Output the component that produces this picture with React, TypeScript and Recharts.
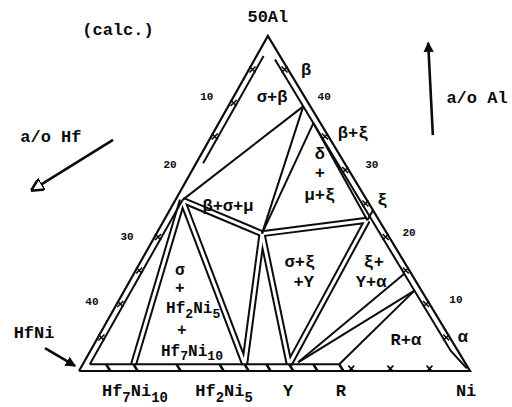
import React from "react"
import { ScatterChart, Scatter, XAxis, YAxis } from "recharts"

type Pt = { x: number; y: number }
type Comp = [number, number] // [a/o Hf, a/o Al]

const INK = "#0b0b0b"
const FONT = "'Liberation Mono', 'DejaVu Sans Mono', monospace"

// composition -> plot coords: HfNi bottom left, Ni bottom right, 50Al on top
const toPlot = ([hf, al]: Comp): Pt => ({ x: 100 - 2 * hf - 1.034 * al, y: al })

// line compounds on the HfNi–Ni side (a/o Hf)
const compoundNames = ["Hf7Ni10", "Hf2Ni5", "Y", "R"]
const compoundHf = [42.5, 28.3, 22.6, 16.2]

// three-phase corners
const corners: Record<string, Comp> = {
  L: [23.6, 25.5],
  N1: [0.9, 39.5],
  N3: [0.9, 37],
  N2: [16, 20.5],
  N4: [1.5, 22.5],
  N5: [0.9, 14.5],
  N6: [0.9, 12],
  E: [0, 24],
  Yr: [21.3, 1.3],
}
compoundNames.forEach((n, i) => (corners[n] = [compoundHf[i], 1]))

// tie lines drawn as hollow (two-phase) bands and as plain lines
const bandTies = [
  ["L", "Hf7Ni10"],
  ["L", "Hf2Ni5"],
  ["N2", "Hf2Ni5"],
  ["N2", "Y"],
  ["N4", "Y"],
  ["N2", "L"],
  ["N2", "N4"],
]
const plainTies = [
  ["L", "N1"],
  ["N1", "N2"],
  ["N3", "N2"],
  ["N3", "N4"],
  ["N4", "E"],
  ["Yr", "N5"],
  ["Yr", "N6"],
  ["R", "N6"],
]

// triangle outline and the inner lines of the single-phase bands along the sides
const outline: Comp[] = [[50, 0], [0, 0], [0, 50], [50, 0]]
const innerLines: Comp[][] = [
  [[2.1, 47], [18.1, 31]],
  [[23.6, 25.5], [48.1, 1]],
  [[0.9, 46.5], [0.9, 3], [0.2, 0.4]],
  [[48.1, 1], [16.2, 1]],
]
const bottomBreaksHf = [46, 42.5, 37, 31.5, 28.3, 25.5, 22.6, 19.5, 16.2]

// 5 a/o marks along the sides
const leftTicksAl = [5, 10, 15, 20, 35, 40, 45]
const rightTicksAl = [5, 10, 15, 20, 25, 30, 35, 45]
const bottomTicksHf = [5, 10, 15]

// text anchors in plot units
const labels = [
  { x: 9.97, y: 50.9, text: "(calc.)" },
  { x: 48.3, y: 52.8, text: "50Al" },
  { x: -7.2, y: 34.9, text: "a/o Hf" },
  { x: 101.8, y: 40.7, text: "a/o Al" },
  { x: -11.5, y: 5.7, text: "HfNi" },
  { x: 14.3, y: -3.0, text: "Hf_{7}Ni_{10}" },
  { x: 37.1, y: -3.0, text: "Hf_{2}Ni_{5}" },
  { x: 53.5, y: -3.0, text: "Y" },
  { x: 67.0, y: -3.0, text: "R" },
  { x: 99.0, y: -3.0, text: "Ni" },
  { x: 49.4, y: 40.9, text: "σ+β" },
  { x: 58.1, y: 44.9, text: "β" },
  { x: 70.1, y: 35.5, text: "β+ξ" },
  { x: 61.6, y: 32.4, text: "δ" },
  { x: 61.6, y: 29.6, text: "+" },
  { x: 61.6, y: 26.3, text: "μ+ξ" },
  { x: 77.6, y: 25.5, text: "ξ" },
  { x: 38.1, y: 24.6, text: "β+σ+μ" },
  { x: 56.5, y: 16.3, text: "σ+ξ" },
  { x: 57.5, y: 13.3, text: "+Y" },
  { x: 75.4, y: 16.3, text: "ξ+" },
  { x: 74.7, y: 13.3, text: "Y+α" },
  { x: 83.6, y: 4.6, text: "R+α" },
  { x: 98.2, y: 5.1, text: "α" },
]
// stacked label of the σ + Hf2Ni5 + Hf7Ni10 field
const fieldStack = [
  { x: 25.8, y: 15.0, text: "σ" },
  { x: 25.8, y: 12.3, text: "+" },
  { x: 29.2, y: 9.2, text: "Hf_{2}Ni_{5}" },
  { x: 26.3, y: 5.9, text: "+" },
  { x: 28.9, y: 2.9, text: "Hf_{7}Ni_{10}" },
]
const scaleNumbers = [
  { x: 32.7, y: 40.9, text: "10" },
  { x: 23.3, y: 30.7, text: "20" },
  { x: 12.3, y: 20.0, text: "30" },
  { x: 3.3, y: 10.3, text: "40" },
  { x: 62.7, y: 40.9, text: "40" },
  { x: 74.9, y: 30.7, text: "30" },
  { x: 84.4, y: 20.6, text: "20" },
  { x: 96.4, y: 10.6, text: "10" },
]

// direction arrows
const arrows = [
  { pts: [{ x: 8.7, y: 34.5 }, { x: -12.0, y: 27.0 }], head: "url(#head-open)" },
  { pts: [{ x: 90.5, y: 35.2 }, { x: 89.3, y: 49.0 }], head: "url(#head-solid)" },
  { pts: [{ x: -8.7, y: 3.4 }, { x: -1.0, y: 0.75 }], head: "url(#head-solid)" },
]

const noDot = () => <g />

const rich = (text: string, size: number, drop: number) => {
  const out: React.ReactNode[] = []
  const re = /_\{([^}]*)\}/g
  let last = 0
  let sub = false
  let m: RegExpExecArray | null
  while ((m = re.exec(text))) {
    if (m.index > last) {
      out.push(<tspan key={out.length} dy={sub ? -drop : 0}>{text.slice(last, m.index)}</tspan>)
      sub = false
    }
    out.push(<tspan key={out.length} dy={sub ? 0 : drop} fontSize={size * 0.82}>{m[1]}</tspan>)
    sub = true
    last = re.lastIndex
  }
  if (last < text.length)
    out.push(<tspan key={out.length} dy={sub ? -drop : 0}>{text.slice(last)}</tspan>)
  return out
}

const textShape = (size: number, drop = size * 0.42) => (props: any) => (
  <text
    x={props.cx}
    y={props.cy}
    textAnchor="middle"
    dominantBaseline="central"
    fontFamily={FONT}
    fontWeight="bold"
    fontSize={size}
    fill={INK}
  >
    {rich(props.payload.text, size, drop)}
  </text>
)

const tickShape = (props: any) => {
  const { cx, cy } = props
  const s = 3
  return (
    <path
      d={`M${cx - s},${cy - s}L${cx + s},${cy + s}M${cx - s},${cy + s}L${cx + s},${cy - s}`}
      stroke={INK}
      strokeWidth={1.6}
    />
  )
}

export default function App() {
  const seg = (a: string, b: string) => [toPlot(corners[a]), toPlot(corners[b])]
  const ticks = [
    ...leftTicksAl.map((al) => toPlot([49.55 - al, al])),
    ...rightTicksAl.map((al) => toPlot([0.45, al])),
    ...bottomTicksHf.map((hf) => toPlot([hf, 0.35])),
  ]

  return (
    <div style={{ position: "absolute", left: 0, top: 0, background: "#fff" }}>
      <ScatterChart width={512} height={407} margin={{ top: 0, right: 0, bottom: 0, left: 0 }}>
        <defs>
          <marker id="head-open" viewBox="0 0 10 10" refX="9" refY="5" markerWidth="5" markerHeight="5" orient="auto">
            <path d="M0,0L10,5L0,10z" fill="#fff" stroke={INK} strokeWidth={2} />
          </marker>
          <marker id="head-solid" viewBox="0 0 10 10" refX="9" refY="5" markerWidth="4" markerHeight="4" orient="auto">
            <path d="M0,0L10,5L0,10z" fill={INK} />
          </marker>
        </defs>
        <XAxis type="number" dataKey="x" domain={[-20.205, 110.742]} hide allowDataOverflow />
        <YAxis type="number" dataKey="y" domain={[-5.373, 55.373]} hide allowDataOverflow />

        {bandTies.map(([a, b], i) => (
          <Scatter key={`bo${i}`} data={seg(a, b)} line={{ stroke: INK, strokeWidth: 7 }} shape={noDot} isAnimationActive={false} />
        ))}
        {bandTies.map(([a, b], i) => (
          <Scatter key={`bi${i}`} data={seg(a, b)} line={{ stroke: "#fff", strokeWidth: 3 }} shape={noDot} isAnimationActive={false} />
        ))}
        {plainTies.map(([a, b], i) => (
          <Scatter key={`pt${i}`} data={seg(a, b)} line={{ stroke: INK, strokeWidth: 2 }} shape={noDot} isAnimationActive={false} />
        ))}

        <Scatter data={outline.map(toPlot)} line={{ stroke: INK, strokeWidth: 2.2 }} shape={noDot} isAnimationActive={false} />
        {innerLines.map((l, i) => (
          <Scatter key={`in${i}`} data={l.map(toPlot)} line={{ stroke: INK, strokeWidth: 2 }} shape={noDot} isAnimationActive={false} />
        ))}
        {bottomBreaksHf.map((hf, i) => (
          <Scatter key={`br${i}`} data={[toPlot([hf, 0]), toPlot([hf, 1])]} line={{ stroke: INK, strokeWidth: 2.5 }} shape={noDot} isAnimationActive={false} />
        ))}
        <Scatter data={ticks} shape={tickShape} isAnimationActive={false} />

        {arrows.map((a, i) => (
          <Scatter key={`ar${i}`} data={a.pts} line={{ stroke: INK, strokeWidth: 2.6, markerEnd: a.head }} shape={noDot} isAnimationActive={false} />
        ))}

        <Scatter data={labels} shape={textShape(17)} isAnimationActive={false} />
        <Scatter data={fieldStack} shape={textShape(16, 4.5)} isAnimationActive={false} />
        <Scatter data={scaleNumbers} shape={textShape(11)} isAnimationActive={false} />
      </ScatterChart>
    </div>
  )
}
